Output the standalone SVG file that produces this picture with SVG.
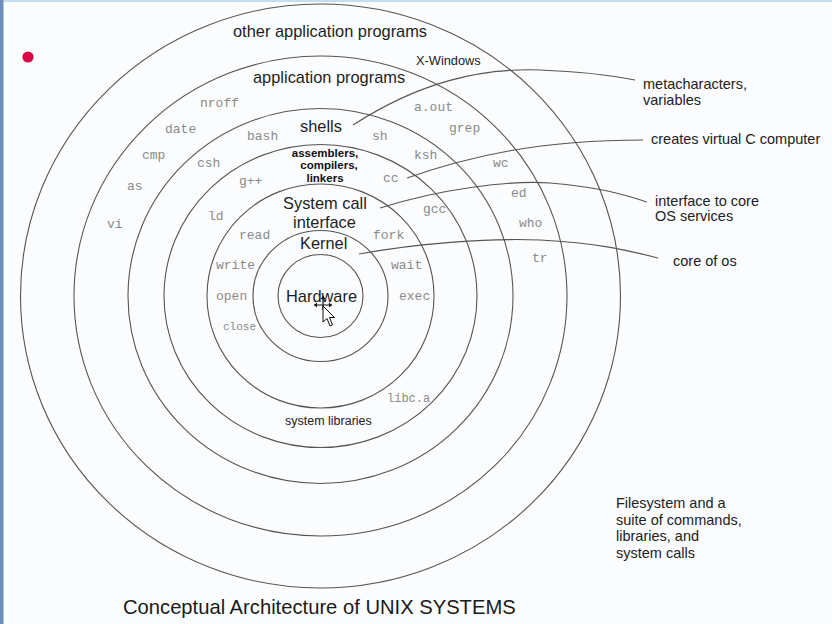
<svg xmlns="http://www.w3.org/2000/svg" width="832" height="624" viewBox="0 0 832 624">
<style>
.ring{fill:none;stroke:#555;stroke-width:1.1}
.conn{fill:none;stroke:#555;stroke-width:1.1}
.big{font-family:"Liberation Sans",Arial,sans-serif;font-size:16.4px;fill:#1e1e1e}
.lbl{font-family:"Liberation Sans",Arial,sans-serif;font-size:14.5px;fill:#222}
.sm{font-family:"Liberation Sans",Arial,sans-serif;font-size:12.5px;fill:#222}
.bold{font-family:"Liberation Sans",Arial,sans-serif;font-size:11.5px;font-weight:bold;fill:#111;text-anchor:middle}
.mono{font-family:"Liberation Mono","Courier New",monospace;font-size:13px;fill:#8a8a8a}
.title{font-family:"Liberation Sans",Arial,sans-serif;font-size:20.2px;fill:#1a1a1a}
</style>
<rect x="0" y="0" width="832" height="624" fill="#fbfcfd"/>
<rect x="0" y="0" width="832" height="2" fill="#c9dcec"/>
<rect x="0" y="0" width="3.5" height="624" fill="#6f8fb8"/>
<circle cx="28" cy="57" r="5.6" fill="#d90843"/>

<g id="rings">
<ellipse id="ring-other" class="ring" cx="320.5" cy="296" rx="300" ry="292"/>
<ellipse id="ring-app" class="ring" cx="320.5" cy="296" rx="246.5" ry="240"/>
<ellipse id="ring-shells" class="ring" cx="320.5" cy="296" rx="192.5" ry="187.5"/>
<ellipse id="ring-asm" class="ring" cx="320.5" cy="296" rx="156.5" ry="151.5"/>
<ellipse id="ring-syscall" class="ring" cx="320.5" cy="296" rx="113.5" ry="112"/>
<ellipse id="ring-kernel" class="ring" cx="320.5" cy="296" rx="67.5" ry="65.5"/>
<ellipse id="ring-hardware" class="ring" cx="320.5" cy="296" rx="42.5" ry="41.5"/>
</g>

<g id="connectors">
<path class="conn" d="M353,125 C420,82 480,68 540,70 C590,72 615,76 635,80"/>
<path class="conn" d="M407,178 C470,156 540,140 643,140"/>
<path class="conn" d="M380,208 C440,189 510,180 550,183 C600,187 625,195 647,202"/>
<path class="conn" d="M359,254 C420,243 490,238 540,240 C600,243 630,251 658,258"/>
</g>

<g id="node-other">
<text class="big" x="233" y="37">other application programs</text>
<text class="sm" x="416" y="65" style="font-size:12.8px">X-Windows</text>
<text class="mono" x="200" y="107">nroff</text>
<text class="mono" x="165" y="133">date</text>
<text class="mono" x="142" y="159">cmp</text>
<text class="mono" x="127" y="190">as</text>
<text class="mono" x="107" y="228">vi</text>
<text class="mono" x="414" y="111">a.out</text>
<text class="mono" x="449" y="132">grep</text>
<text class="mono" x="493" y="167">wc</text>
<text class="mono" x="511" y="197">ed</text>
<text class="mono" x="519" y="227">who</text>
<text class="mono" x="532" y="262">tr</text>
</g>

<g id="node-app">
<text class="big" x="253" y="83">application programs</text>
</g>

<g id="node-shells">
<text class="big" x="300" y="132">shells</text>
<text class="mono" x="247" y="140">bash</text>
<text class="mono" x="197" y="167">csh</text>
<text class="mono" x="372" y="140">sh</text>
<text class="mono" x="414" y="159">ksh</text>
</g>

<g id="node-asm">
<text class="bold" x="325" y="157">assemblers,</text>
<text class="bold" x="329" y="169">compilers,</text>
<text class="bold" x="325" y="181.5">linkers</text>
<text class="mono" x="239" y="185">g++</text>
<text class="mono" x="208" y="220">ld</text>
<text class="mono" x="383" y="182">cc</text>
<text class="mono" x="423" y="213">gcc</text>
</g>

<g id="node-syscall">
<text class="big" x="283" y="209">System call</text>
<text class="big" x="293" y="228">interface</text>
<text class="mono" x="239" y="239">read</text>
<text class="mono" x="216" y="269">write</text>
<text class="mono" x="216" y="300">open</text>
<text class="mono" x="223" y="330" style="font-size:11px">close</text>
<text class="mono" x="373" y="239">fork</text>
<text class="mono" x="391" y="269">wait</text>
<text class="mono" x="399" y="300">exec</text>
<text class="mono" x="387" y="402" style="font-size:12px">libc.a</text>
<text class="sm" x="285" y="425">system libraries</text>
</g>

<g id="node-kernel">
<text class="big" x="300" y="249">Kernel</text>
</g>

<g id="node-hardware">
<text class="big" x="286" y="302">Hardware</text>
</g>

<g id="labels">
<text class="lbl" x="643" y="89">metacharacters,</text>
<text class="lbl" x="643" y="105">variables</text>
<text class="lbl" x="651" y="144">creates virtual C computer</text>
<text class="lbl" x="655" y="206">interface to core</text>
<text class="lbl" x="655" y="221">OS services</text>
<text class="lbl" x="673" y="266">core of os</text>
<text class="lbl" x="616" y="508">Filesystem and a</text>
<text class="lbl" x="616" y="524.5">suite of commands,</text>
<text class="lbl" x="616" y="541">libraries, and</text>
<text class="lbl" x="616" y="557.5">system calls</text>
<text class="title" x="123" y="614">Conceptual Architecture of UNIX SYSTEMS</text>
</g>

<g id="cursor">
<path d="M314,305 H332 M323,296 V310" stroke="#111" stroke-width="1.2" fill="none"/>
<path d="M314,305 l3,-2.5 v5 z M332,305 l-3,-2.5 v5 z M323,296 l-2.5,3 h5 z" fill="#111"/>
<path d="M323,306 L323,322 L327,318.5 L330,326 L332.5,325 L329.5,317.5 L334.5,317.5 Z" fill="#fff" stroke="#111" stroke-width="1"/>
</g>
</svg>
